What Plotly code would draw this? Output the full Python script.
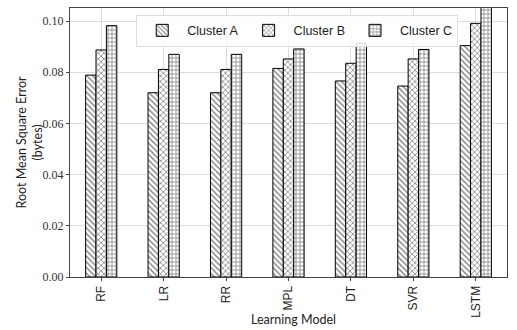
import plotly.graph_objects as go

models = ["RF", "LR", "RR", "MPL", "DT", "SVR", "LSTM"]
cluster_a = [0.0789, 0.0720, 0.0720, 0.0815, 0.0766, 0.0746, 0.0904]
cluster_b = [0.0887, 0.0811, 0.0811, 0.0852, 0.0835, 0.0852, 0.0991]
cluster_c = [0.0982, 0.0870, 0.0870, 0.0891, 0.0913, 0.0889, 0.1070]
series_names = ["Cluster A", "Cluster B", "Cluster C"]
y_ticks = [0.00, 0.02, 0.04, 0.06, 0.08, 0.10]

patterns = ["\\", "x", "+"]
fig = go.Figure()
for name, vals, pat in zip(series_names, [cluster_a, cluster_b, cluster_c], patterns):
    fig.add_trace(go.Bar(
        x=models, y=vals, name=name,
        marker=dict(color="white",
                    line=dict(color="black", width=1),
                    pattern=dict(shape=pat, fgcolor="black", bgcolor="white",
                                 size=4, solidity=0.35, fillmode="overlay")),
    ))

fig.update_layout(
    width=517, height=330,
    margin=dict(l=70, r=10, t=8, b=53, autoexpand=False),
    barmode="group", bargap=0.5, bargroupgap=0,
    plot_bgcolor="white", paper_bgcolor="white",
    legend=dict(orientation="h", x=0.52, xanchor="center", y=0.975, yanchor="top",
                bgcolor="rgba(255,255,255,0.85)", bordercolor="#dddddd", borderwidth=1,
                font=dict(family="Liberation Sans", size=12.5, color="#222"),
                itemwidth=40, traceorder="normal"),
    xaxis=dict(
        automargin=False,
        tickangle=-90, tickfont=dict(family="Liberation Sans", size=12, color="#222"),
        showgrid=True, gridcolor="#dcdcdc", gridwidth=1,
        showline=True, linecolor="#444", mirror=True, linewidth=1,
        ticks="outside", ticklen=3, tickcolor="#444",
        range=[-0.5, 6.5],
    ),
    yaxis=dict(
        automargin=False,
        tickvals=y_ticks, ticktext=[f"{v:.2f}" for v in y_ticks],
        tickfont=dict(family="Liberation Serif", size=12, color="#333"),
        range=[0, 0.1051],
        showgrid=True, gridcolor="#dcdcdc", gridwidth=1,
        showline=True, linecolor="#444", mirror=True, linewidth=1,
        ticks="outside", ticklen=3, tickcolor="#444",
        zeroline=False,
    ),
    annotations=[
        dict(text="Learning Model", xref="paper", yref="paper", x=0.5, y=0,
             xshift=5, yshift=-42, yanchor="middle", showarrow=False,
             font=dict(family="Lato", size=12.5, color="#222")),
        dict(text="Root Mean Square Error<br>(bytes)", xref="paper", yref="paper",
             x=0, xshift=-41, xanchor="center", y=0.5, yanchor="middle",
             textangle=-90, showarrow=False,
             font=dict(family="Lato", size=12.5, color="#222")),
    ],
)
fig.write_html("out.html", config={"displayModeBar": False},
               post_script="document.body.style.margin='0';document.body.style.overflow='hidden';")
